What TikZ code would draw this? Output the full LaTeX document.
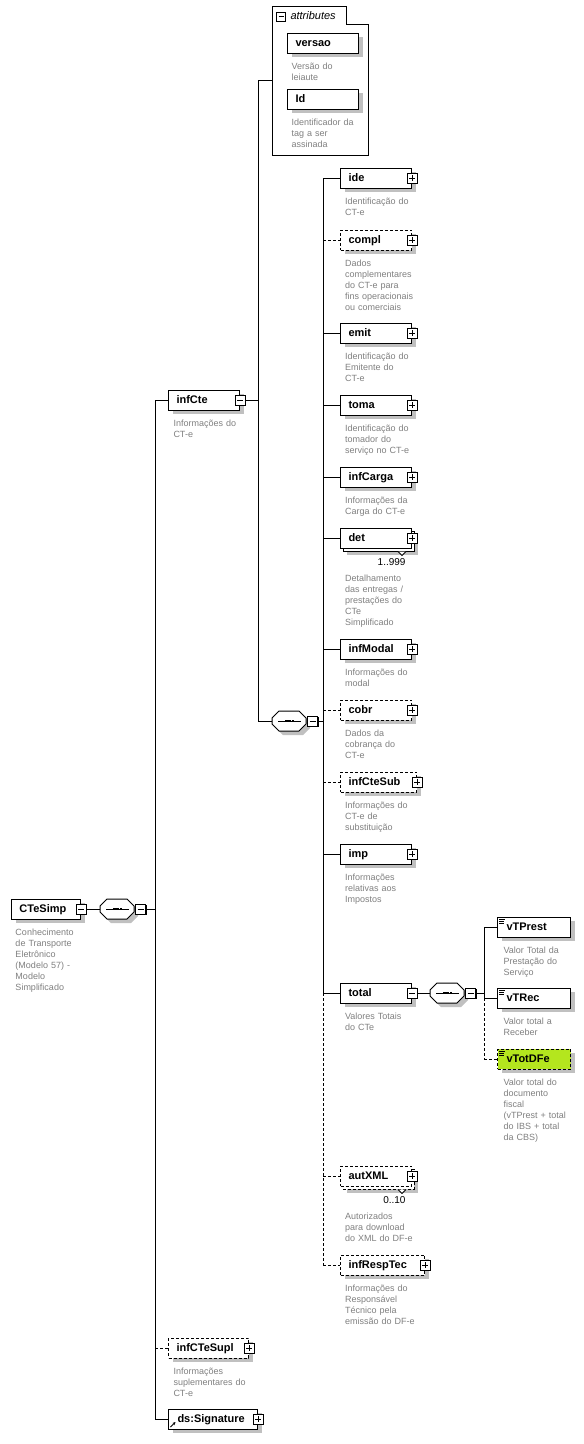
\documentclass[tikz,border=0pt]{standalone}
\usepackage{fontspec}
\setmainfont{Liberation Sans}
\usetikzlibrary{shadows,arrows.meta}
\definecolor{desccol}{RGB}{128,128,128}
\definecolor{shd}{RGB}{192,192,192}
\definecolor{limegreen}{RGB}{180,230,30}
\tikzset{
  elbox/.style={draw=black, line width=1pt, fill=white, anchor=west, minimum height=20pt,
    inner sep=0pt, text height=9pt, text depth=2pt,
    font=\fontsize{11}{13}\selectfont\bfseries, align=left},
  shadowed/.style={general shadow={fill=shd, shadow xshift=4pt, shadow yshift=-4pt}},
  optline/.style={dash pattern=on 3pt off 2pt},
  expbox/.style={draw=black, line width=1pt, fill=white, minimum size=10pt, inner sep=0pt,
    general shadow={fill=black, shadow xshift=1pt, shadow yshift=-1pt}},
  plusx/.style={expbox, path picture={
    \draw[line width=1pt] ([xshift=2pt]path picture bounding box.west) -- ([xshift=-2pt]path picture bounding box.east);
    \draw[line width=1pt] ([yshift=-2pt]path picture bounding box.north) -- ([yshift=2pt]path picture bounding box.south);}},
  minusx/.style={expbox, path picture={
    \draw[line width=1pt] ([xshift=2pt]path picture bounding box.west) -- ([xshift=-2pt]path picture bounding box.east);}},
  desctext/.style={anchor=north west, inner sep=0pt, text=desccol,
    font=\fontsize{9}{11}\selectfont, align=left, text width=110pt},
  multtext/.style={anchor=base east, inner sep=0pt, font=\fontsize{10}{12}\selectfont},
}
\newcommand\seqnode[3]{%
  \fill[shd, shift={(4,4)}] (#2,#3-3) -- (#2+7,#3-10) -- (#2+27,#3-10) -- (#2+34,#3-3) -- (#2+34,#3+3) -- (#2+27,#3+10) -- (#2+7,#3+10) -- (#2,#3+3) -- cycle;
  \draw[fill=white] (#2,#3-3) -- (#2+7,#3-10) -- (#2+27,#3-10) -- (#2+34,#3-3) -- (#2+34,#3+3) -- (#2+27,#3+10) -- (#2+7,#3+10) -- (#2,#3+3) -- cycle;
  \node[inner sep=0pt, minimum width=34pt, minimum height=20pt, anchor=west] (#1) at (#2,#3) {};
  \draw ([xshift=6pt]#1.west) -- ([xshift=-6pt]#1.east);
  \foreach \dx in {-3.4,0,3.4} {\fill ([xshift=\dx pt]#1.center) +(-1.4pt,-1.4pt) rectangle +(1.4pt,1.4pt);}
  \node[minusx, anchor=west] (#1x) at (#1.east) {};
}
\newcommand\simpleicon[1]{%
  \draw[line width=0.8pt] ([shift={(2pt,-2.5pt)}]#1.north west) -- ++(6pt,0pt);
  \draw[line width=0.8pt] ([shift={(2pt,-4.5pt)}]#1.north west) -- ++(5pt,0pt);
  \draw[line width=0.8pt] ([shift={(2pt,-6.5pt)}]#1.north west) -- ++(5pt,0pt);
}
\begin{document}
\begin{tikzpicture}[x=1pt,y=-1pt,line width=1pt]
\useasboundingbox (0,0) rectangle (584,1444);
\fill[white] (0,0) rectangle (584,1444);
\coordinate (b1) at (155,0);
\coordinate (b2) at (258,0);
\coordinate (b3) at (323,0);
\coordinate (b4) at (484,0);

% ---------- root
\node[elbox, shadowed, text width=69pt] (CTeSimp) at (11,909) {\hspace*{8pt}CTeSimp};
\node[minusx] (CTeSimpx) at (CTeSimp.east) {};
\node[desctext] (CTeSimp-d) at ([shift={(4pt,-7.3pt)}]CTeSimp.south west) {\strut Conhecimento\\de Transporte\\Eletrônico\\(Modelo 57) -\\Modelo\\Simplificado};
\seqnode{s0}{100}{909}
\draw (CTeSimpx.east) -- (s0.west);
\draw (s0x.east) -- (b1 |- s0x.east);

% ---------- level 1
\node[elbox, shadowed, text width=71pt] (infCte) at (168,400) {\hspace*{8pt}infCte};
\node[minusx] (infCtex) at (infCte.east) {};
\node[desctext] (infCte-d) at ([shift={(5pt,-7.3pt)}]infCte.south west) {\strut Informações do\\CT-e};

\node[elbox, shadowed, optline, text width=80pt] (infCTeSupl) at (168,1348) {\hspace*{8pt}infCTeSupl};
\node[plusx] (infCTeSuplx) at (infCTeSupl.east) {};
\node[desctext] (infCTeSupl-d) at ([shift={(5pt,-7.3pt)}]infCTeSupl.south west) {\strut Informações\\suplementares do\\CT-e};

\node[elbox, shadowed, text width=89pt] (dsSig) at (168,1419) {\hspace*{9pt}ds:Signature};
\node[plusx] (dsSigx) at (dsSig.east) {};
\draw[line width=1pt, -{Stealth[length=3pt,width=3pt]}] ([shift={(2.5pt,2.5pt)}]dsSig.south west) -- ++(5pt,5pt);

\draw (b1 |- infCte.west) -- (b1 |- dsSig.west);
\draw (b1 |- infCte.west) -- (infCte.west);
\draw[optline] (b1 |- infCTeSupl.west) -- (infCTeSupl.west);
\draw (b1 |- dsSig.west) -- (dsSig.west);

% ---------- attributes
\draw[fill=white] (272,6) -- (346,6) -- (346,24) -- (368,24) -- (368,155) -- (272,155) -- cycle;
\node[inner sep=0pt, minimum width=96pt, minimum height=149pt] (attr) at (320,80.5) {};
\node[draw=black, fill=white, line width=1pt, minimum size=9pt, inner sep=0pt,
  path picture={\draw[line width=1pt] ([xshift=2pt]path picture bounding box.west) -- ([xshift=-2pt]path picture bounding box.east);}] (attrx) at (281,16.5) {};
\node[anchor=west, inner sep=0pt, font=\fontsize{11}{13}\selectfont\itshape] (attr-t) at (290,15.5) {attributes};

\node[elbox, shadowed, text width=71pt] (versao) at (287,43) {\hspace*{8pt}versao};
\node[desctext] (versao-d) at ([shift={(4pt,-7.3pt)}]versao.south west) {\strut Versão do\\leiaute};
\node[elbox, shadowed, text width=71pt] (Id) at (287,99) {\hspace*{8pt}Id};
\node[desctext] (Id-d) at ([shift={(4pt,-7.8pt)}]Id.south west) {\strut Identificador da\\tag a ser\\assinada};

\seqnode{s1}{272}{721}
\draw (b2 |- attr.west) -- (b2 |- s1.west);
\draw (b2 |- attr.west) -- (attr.west);
\draw (b2 |- s1.west) -- (s1.west);
\draw (infCtex.east) -- (b2 |- infCtex.east);
\draw (s1x.east) -- (b3 |- s1x.east);

% ---------- level 3
\node[elbox, shadowed, text width=71pt] (ide) at (340,178) {\hspace*{8pt}ide};
\node[plusx] (idex) at (ide.east) {};
\node[desctext] (ide-d) at ([shift={(4.5pt,-7.3pt)}]ide.south west) {\strut Identificação do\\CT-e};

\node[elbox, shadowed, optline, text width=71pt] (compl) at (340,240) {\hspace*{8pt}compl};
\node[plusx] (complx) at (compl.east) {};
\node[desctext] (compl-d) at ([shift={(4.5pt,-7.3pt)}]compl.south west) {\strut Dados\\complementares\\do CT-e para\\fins operacionais\\ou comerciais};

\node[elbox, shadowed, text width=71pt] (emit) at (340,333) {\hspace*{8pt}emit};
\node[plusx] (emitx) at (emit.east) {};
\node[desctext] (emit-d) at ([shift={(4.5pt,-7.3pt)}]emit.south west) {\strut Identificação do\\Emitente do\\CT-e};

\node[elbox, shadowed, text width=71pt] (toma) at (340,405) {\hspace*{8pt}toma};
\node[plusx] (tomax) at (toma.east) {};
\node[desctext] (toma-d) at ([shift={(4.5pt,-7.3pt)}]toma.south west) {\strut Identificação do\\tomador do\\serviço no CT-e};

\node[elbox, shadowed, text width=71pt] (infCarga) at (340,477) {\hspace*{8pt}infCarga};
\node[plusx] (infCargax) at (infCarga.east) {};
\node[desctext] (infCarga-d) at ([shift={(4.5pt,-7.3pt)}]infCarga.south west) {\strut Informações da\\Carga do CT-e};

\fill[shd] (347,535) rectangle (418,555);
\draw[fill=white] (343,531) rectangle (414,551);
\node[elbox, text width=71pt] (det) at (340,538) {\hspace*{8pt}det};
\node[plusx] (detx) at (det.east) {};
\draw[fill=white] ([shift={(-14pt,-3pt)}]det.south east) -- ++(4pt,-4pt) -- ++(4pt,4pt);
\node[multtext] (det-m) at ([shift={(-6pt,-16.5pt)}]det.south east) {1..999};
\node[desctext] (det-d) at ([shift={(4.5pt,-24.3pt)}]det.south west) {\strut Detalhamento\\das entregas /\\prestações do\\CTe\\Simplificado};

\node[elbox, shadowed, text width=71pt] (infModal) at (340,649) {\hspace*{8pt}infModal};
\node[plusx] (infModalx) at (infModal.east) {};
\node[desctext] (infModal-d) at ([shift={(4.5pt,-7.3pt)}]infModal.south west) {\strut Informações do\\modal};

\node[elbox, shadowed, optline, text width=71pt] (cobr) at (340,710) {\hspace*{8pt}cobr};
\node[plusx] (cobrx) at (cobr.east) {};
\node[desctext] (cobr-d) at ([shift={(4.5pt,-7.3pt)}]cobr.south west) {\strut Dados da\\cobrança do\\CT-e};

\node[elbox, shadowed, optline, text width=76pt] (infCteSub) at (340,782) {\hspace*{8pt}infCteSub};
\node[plusx] (infCteSubx) at (infCteSub.east) {};
\node[desctext] (infCteSub-d) at ([shift={(4.5pt,-7.3pt)}]infCteSub.south west) {\strut Informações do\\CT-e de\\substituição};

\node[elbox, shadowed, text width=71pt] (imp) at (340,854) {\hspace*{8pt}imp};
\node[plusx] (impx) at (imp.east) {};
\node[desctext] (imp-d) at ([shift={(4.5pt,-7.3pt)}]imp.south west) {\strut Informações\\relativas aos\\Impostos};

\node[elbox, shadowed, text width=71pt] (total) at (340,993) {\hspace*{8pt}total};
\node[minusx] (totalx) at (total.east) {};
\node[desctext] (total-d) at ([shift={(4.5pt,-7.3pt)}]total.south west) {\strut Valores Totais\\do CTe};

\fill[shd] (347,1173) rectangle (418,1193);
\draw[fill=white, optline] (343,1169) rectangle (414,1189);
\node[elbox, optline, text width=71pt] (autXML) at (340,1176) {\hspace*{8pt}autXML};
\node[plusx] (autXMLx) at (autXML.east) {};
\draw[fill=white] ([shift={(-14pt,-3pt)}]autXML.south east) -- ++(4pt,-4pt) -- ++(4pt,4pt);
\node[multtext] (autXML-m) at ([shift={(-6pt,-16.5pt)}]autXML.south east) {0..10};
\node[desctext] (autXML-d) at ([shift={(4.5pt,-24.3pt)}]autXML.south west) {\strut Autorizados\\para download\\do XML do DF-e};

\node[elbox, shadowed, optline, text width=84pt] (infRespTec) at (340,1265) {\hspace*{8pt}infRespTec};
\node[plusx] (infRespTecx) at (infRespTec.east) {};
\node[desctext] (infRespTec-d) at ([shift={(4.5pt,-7.3pt)}]infRespTec.south west) {\strut Informações do\\Responsável\\Técnico pela\\emissão do DF-e};

\draw (b3 |- ide.west) -- (b3 |- total.west);
\draw[optline] (b3 |- total.west) -- (b3 |- infRespTec.west);
\draw (b3 |- ide.west) -- (ide.west);
\draw[optline] (b3 |- compl.west) -- (compl.west);
\draw (b3 |- emit.west) -- (emit.west);
\draw (b3 |- toma.west) -- (toma.west);
\draw (b3 |- infCarga.west) -- (infCarga.west);
\draw (b3 |- det.west) -- (det.west);
\draw (b3 |- infModal.west) -- (infModal.west);
\draw[optline] (b3 |- cobr.west) -- (cobr.west);
\draw[optline] (b3 |- infCteSub.west) -- (infCteSub.west);
\draw (b3 |- imp.west) -- (imp.west);
\draw (b3 |- total.west) -- (total.west);
\draw[optline] (b3 |- autXML.west) -- (autXML.west);
\draw[optline] (b3 |- infRespTec.west) -- (infRespTec.west);

% ---------- level 4
\seqnode{s2}{430}{993}
\draw (totalx.east) -- (s2.west);
\draw (s2x.east) -- (b4 |- s2x.east);

\node[elbox, shadowed, text width=73pt] (vTPrest) at (497,927) {\hspace*{9pt}vTPrest};
\simpleicon{vTPrest}
\node[desctext] (vTPrest-d) at ([shift={(6pt,-7.3pt)}]vTPrest.south west) {\strut Valor Total da\\Prestação do\\Serviço};

\node[elbox, shadowed, text width=73pt] (vTRec) at (497,998) {\hspace*{9pt}vTRec};
\simpleicon{vTRec}
\node[desctext] (vTRec-d) at ([shift={(6pt,-7.3pt)}]vTRec.south west) {\strut Valor total a\\Receber};

\node[elbox, shadowed, optline, fill=limegreen, text width=73pt] (vTotDFe) at (497,1059) {\hspace*{9pt}vTotDFe};
\simpleicon{vTotDFe}
\node[desctext] (vTotDFe-d) at ([shift={(6pt,-7.3pt)}]vTotDFe.south west) {\strut Valor total do\\documento\\fiscal\\(vTPrest + total\\do IBS + total\\da CBS)};

\draw (b4 |- vTPrest.west) -- (b4 |- vTRec.west);
\draw[optline] (b4 |- vTRec.west) -- (b4 |- vTotDFe.west);
\draw (b4 |- vTPrest.west) -- (vTPrest.west);
\draw (b4 |- vTRec.west) -- (vTRec.west);
\draw[optline] (b4 |- vTotDFe.west) -- (vTotDFe.west);
\end{tikzpicture}
\end{document}
